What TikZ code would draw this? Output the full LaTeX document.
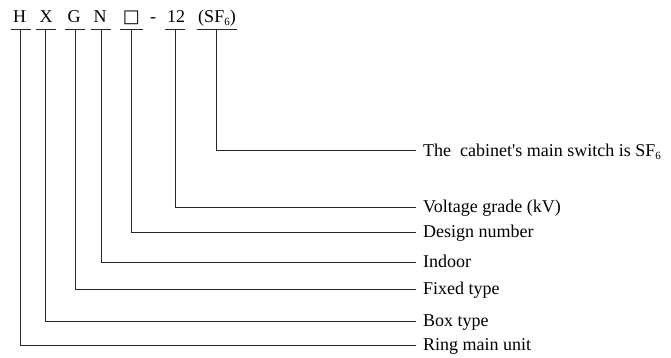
\documentclass[tikz,border=0pt]{standalone}
\usepackage{fontspec}
\setmainfont{Liberation Serif}[Ligatures=TeXOff]
\newfontfamily\symfont{DejaVu Sans}
\newcommand{\subsix}{{\fontsize{11}{11}\selectfont\raisebox{-3.5pt}{6}}}
\begin{document}
\begin{tikzpicture}[x=1pt,y=-1pt,
  code/.style={font=\fontsize{18}{20}\selectfont, inner sep=0pt, anchor=base},
  lbl/.style={font=\fontsize{18}{20}\selectfont, inner sep=0pt, anchor=base west},
  conn/.style={line width=1pt, draw=black!85}]
\useasboundingbox (0,0) rectangle (671,357);
% code letters
\node[code] (cH) at (19.5,22) {H};
\node[code] (cX) at (46,22) {X};
\node[code] (cG) at (74,22) {G};
\node[code] (cN) at (100,22) {N};
\node[code] (cB) at (131.5,22) {\symfont □};
\node[code] (cD) at (153,22) {-};
\node[code] (c12) at (176,22) {12};
\node[code] (cS) at (217,22) {(SF\subsix)};
% underline anchor points
\coordinate (uH) at (20.7,29);
\coordinate (uX) at (45.7,29);
\coordinate (uG) at (75.3,29);
\coordinate (uN) at (101.3,29);
\coordinate (uB) at (131.7,29);
\coordinate (u12) at (175,29);
\coordinate (uS) at (216,29);
\draw[conn] ([xshift=-10pt]uH) -- ([xshift=10pt]uH);
\draw[conn] ([xshift=-10pt]uX) -- ([xshift=10pt]uX);
\draw[conn] ([xshift=-10pt]uG) -- ([xshift=10pt]uG);
\draw[conn] ([xshift=-10pt]uN) -- ([xshift=10pt]uN);
\draw[conn] ([xshift=-11.5pt]uB) -- ([xshift=11.5pt]uB);
\draw[conn] ([xshift=-10pt]u12) -- ([xshift=10pt]u12);
\draw[conn] ([xshift=-19.5pt]uS) -- ([xshift=21pt]uS);
% labels
\node[lbl] (lS) at (423,156) {The\ \ cabinet's main switch is SF\subsix};
\node[lbl] (l12) at (423,212) {Voltage grade (kV)};
\node[lbl] (lB) at (423,237) {Design number};
\node[lbl] (lN) at (423,267) {Indoor};
\node[lbl] (lG) at (423,294) {Fixed type};
\node[lbl] (lX) at (423,326) {Box type};
\node[lbl] (lH) at (423,350) {Ring main unit};
% connector ends
\coordinate (eS) at (416,150);
\coordinate (e12) at (416,207);
\coordinate (eB) at (416,232);
\coordinate (eN) at (416,262);
\coordinate (eG) at (416,289);
\coordinate (eX) at (416,321);
\coordinate (eH) at (416,345);
\draw[conn] (uS) |- (eS);
\draw[conn] (u12) |- (e12);
\draw[conn] (uB) |- (eB);
\draw[conn] (uN) |- (eN);
\draw[conn] (uG) |- (eG);
\draw[conn] (uX) |- (eX);
\draw[conn] (uH) |- (eH);
\end{tikzpicture}
\end{document}
